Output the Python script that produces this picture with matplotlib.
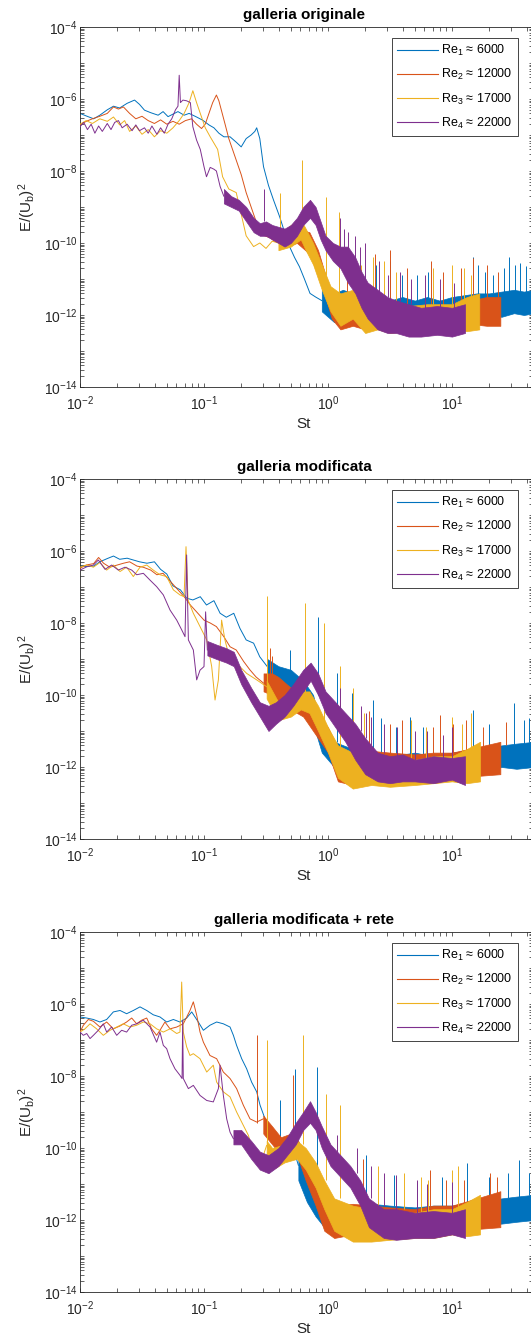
import numpy as np
import matplotlib
matplotlib.use("Agg")
import matplotlib.pyplot as plt
from matplotlib.ticker import FixedLocator, FuncFormatter, NullFormatter
from matplotlib.lines import Line2D

plt.rcParams['font.family'] = ['Liberation Sans', 'DejaVu Sans']
plt.rcParams['mathtext.fontset'] = 'custom'
plt.rcParams['mathtext.rm'] = 'Liberation Sans'
plt.rcParams['mathtext.it'] = 'Liberation Sans:italic'
plt.rcParams['mathtext.bf'] = 'Liberation Sans:bold'
plt.rcParams['mathtext.default'] = 'regular'
plt.rcParams['axes.unicode_minus'] = False

# ---------------------------------------------------------------
# Data (all values are log10(St), log10(E/Ub^2))
# ---------------------------------------------------------------
titles = ["galleria originale", "galleria modificata", "galleria modificata + rete"]
legend_labels = ["Re$_1$ ≈ 6000", "Re$_2$ ≈ 12000", "Re$_3$ ≈ 17000", "Re$_4$ ≈ 22000"]
colors = ["#0072BD", "#D95319", "#EDB120", "#7E2F8E"]

# ---------- panel 1 : galleria originale ----------
p1_re1_line_st = [-2.00,-1.95,-1.89,-1.84,-1.78,-1.73,-1.68,-1.62,-1.56,-1.52,-1.48,-1.43,-1.37,-1.33,-1.29,-1.25,-1.21,-1.16,-1.12,-1.06,-1.01,-0.96,-0.92,-0.88,-0.84,-0.79,-0.74,-0.70,-0.66,-0.62,-0.59,-0.575,-0.55,-0.52,-0.48,-0.44,-0.39,-0.35,-0.31,-0.27,-0.23,-0.19,-0.145,-0.10,-0.05]
p1_re1_line_e = [-6.40,-6.47,-6.55,-6.45,-6.30,-6.20,-6.25,-6.12,-6.03,-6.15,-6.31,-6.38,-6.45,-6.35,-6.49,-6.42,-6.35,-6.45,-6.40,-6.50,-6.59,-6.72,-6.80,-6.95,-7.05,-7.05,-7.20,-7.33,-7.10,-7.00,-6.90,-6.80,-7.10,-7.88,-8.40,-8.80,-9.27,-9.70,-10.1,-10.4,-10.66,-11.0,-11.4,-11.5,-11.6]
p1_re1_band_st = [-0.05, 0.05, 0.12, 0.20, 0.30, 0.40, 0.50, 0.60, 0.70, 0.80, 0.90, 1.00, 1.10, 1.20, 1.30, 1.40, 1.50, 1.58, 1.66]
p1_re1_band_lo = [-11.9, -12.2, -12.0, -12.1, -12.2, -12.1, -12.2, -12.1, -12.2, -12.1, -12.2, -12.1, -12.0, -12.1, -12.0, -12.05, -11.95, -12.0, -11.95]
p1_re1_band_hi = [-11.3, -11.4, -11.3, -11.4, -11.5, -11.5, -11.6, -11.5, -11.6, -11.5, -11.6, -11.5, -11.45, -11.4, -11.4, -11.35, -11.3, -11.35, -11.3]
p1_re1_spike_st = [0.39, 0.50, 0.60, 0.72, 0.81, 1.17, 1.21, 1.27, 1.33, 1.42, 1.46, 1.51, 1.55, 1.60, 1.65]
p1_re1_spike_lo = [-11.6, -11.6, -11.6, -11.6, -11.6, -11.5, -11.5, -11.5, -11.4, -11.4, -11.4, -11.4, -11.4, -11.4, -11.4]
p1_re1_spike_hi = [-10.6, -10.5, -10.9, -10.9, -10.8, -10.4, -10.6, -10.8, -10.9, -10.7, -10.38, -10.6, -10.56, -10.65, -10.8]

p1_re2_line_st = [-2.00,-1.95,-1.90,-1.84,-1.78,-1.73,-1.69,-1.65,-1.60,-1.55,-1.50,-1.45,-1.40,-1.35,-1.30,-1.25,-1.20,-1.15,-1.10,-1.06,-1.02,-0.99,-0.96,-0.93,-0.90,-0.88,-0.86,-0.83,-0.80,-0.77,-0.73,-0.70,-0.66,-0.62,-0.58,-0.55,-0.51,-0.47,-0.43,-0.39,-0.35]
p1_re2_line_e = [-6.72,-6.62,-6.55,-6.48,-6.40,-6.22,-6.28,-6.22,-6.40,-6.55,-6.48,-6.60,-6.68,-6.58,-6.70,-6.62,-6.70,-6.60,-6.55,-6.70,-6.82,-6.70,-6.40,-6.10,-5.89,-6.05,-6.31,-6.70,-7.10,-7.40,-7.80,-8.10,-8.60,-9.00,-9.40,-9.60,-9.80,-9.85,-9.95,-10.0,-9.9]
p1_re2_band_st = [-0.35, -0.25, -0.15, -0.08, -0.02, 0.03, 0.10, 0.20, 0.30, 0.45, 0.60, 0.75, 0.90, 1.00, 1.15, 1.28, 1.39]
p1_re2_band_lo = [-10.1, -10.0, -10.3, -10.9, -11.5, -12.1, -12.4, -12.3, -12.4, -12.35, -12.3, -12.4, -12.3, -12.3, -12.25, -12.3, -12.3]
p1_re2_band_hi = [-9.8, -9.6, -9.7, -10.2, -10.9, -11.4, -11.6, -11.5, -11.6, -11.7, -11.7, -11.8, -11.7, -11.8, -11.6, -11.5, -11.5]
p1_re2_spike_st = [0.15, 0.38, 0.50, 0.64, 0.83, 0.93, 1.07, 1.17, 1.28, 1.37]
p1_re2_spike_lo = [-11.5, -11.7, -11.7, -11.7, -11.8, -11.8, -11.8, -11.7, -11.6, -11.5]
p1_re2_spike_hi = [-10.3, -10.3, -10.2, -10.7, -10.5, -10.8, -10.7, -10.42, -10.6, -10.8]

p1_re3_line_st = [-2.00,-1.95,-1.90,-1.84,-1.78,-1.73,-1.68,-1.64,-1.60,-1.55,-1.50,-1.45,-1.40,-1.35,-1.30,-1.25,-1.20,-1.16,-1.12,-1.09,-1.06,-1.03,-0.99,-0.95,-0.89,-0.85,-0.80,-0.74,-0.70,-0.66,-0.60,-0.55,-0.50,-0.45,-0.40]
p1_re3_line_e = [-6.70,-6.60,-6.68,-6.55,-6.62,-6.50,-6.72,-6.60,-6.90,-6.75,-6.98,-6.85,-7.05,-6.88,-6.95,-6.80,-6.60,-6.40,-6.10,-5.77,-6.10,-6.40,-6.80,-7.05,-7.40,-8.16,-8.50,-8.60,-9.20,-9.80,-10.1,-10.0,-10.15,-9.95,-10.0]
p1_re3_band_st = [-0.40, -0.30, -0.22, -0.18, -0.12, -0.05, 0.02, 0.10, 0.20, 0.30, 0.40, 0.50, 0.65, 0.80, 1.00, 1.12, 1.22]
p1_re3_band_lo = [-10.2, -10.1, -9.9, -10.2, -10.6, -11.3, -11.9, -12.3, -12.1, -12.5, -12.4, -12.5, -12.45, -12.5, -12.4, -12.45, -12.4]
p1_re3_band_hi = [-9.8, -9.5, -9.35, -9.6, -10.0, -10.6, -11.2, -11.4, -11.3, -11.7, -11.6, -11.7, -11.75, -11.7, -11.7, -11.5, -11.4]
p1_re3_spike_st = [-0.39, -0.206, -0.02, 0.09, 0.27, 0.36, 0.45, 0.55, 0.85, 1.00, 1.10, 1.15]
p1_re3_spike_lo = [-9.9, -9.5, -10.9, -11.4, -11.6, -11.7, -11.7, -11.7, -11.7, -11.7, -11.7, -11.6]
p1_re3_spike_hi = [-8.6, -7.69, -8.71, -9.13, -10.6, -10.4, -10.5, -10.8, -10.7, -10.6, -10.7, -10.9]

p1_re4_line_st = [-2.00,-1.97,-1.94,-1.91,-1.88,-1.85,-1.82,-1.78,-1.75,-1.72,-1.69,-1.66,-1.62,-1.58,-1.55,-1.52,-1.48,-1.45,-1.42,-1.38,-1.35,-1.32,-1.29,-1.26,-1.23,-1.21,-1.20,-1.19,-1.17,-1.14,-1.11,-1.09,-1.06,-1.03,-1.00,-0.98,-0.95,-0.92,-0.90,-0.87,-0.84]
p1_re4_line_e = [-6.77,-6.65,-6.85,-6.70,-6.95,-6.75,-6.90,-6.68,-6.85,-6.65,-6.60,-6.80,-6.70,-6.88,-6.72,-6.88,-6.80,-6.95,-6.75,-6.98,-6.80,-6.95,-6.70,-6.55,-6.30,-6.20,-5.34,-6.10,-6.03,-6.05,-6.10,-6.77,-7.14,-7.40,-7.88,-8.16,-7.90,-7.95,-8.00,-8.43,-8.70]
p1_re4_band_st = [-0.84,-0.78,-0.72,-0.66,-0.60,-0.55,-0.50,-0.45,-0.40,-0.35,-0.30,-0.25,-0.20,-0.145,-0.10,-0.06,-0.02,0.04,0.10,0.16,0.22,0.27,0.32,0.40,0.48,0.55,0.65,0.75,0.88,1.00,1.105]
p1_re4_band_lo = [-8.9,-9.0,-9.1,-9.4,-9.7,-9.8,-9.8,-9.9,-10.0,-10.1,-10.0,-9.8,-9.5,-9.3,-9.5,-9.9,-10.2,-10.5,-10.7,-11.1,-11.4,-11.8,-12.1,-12.4,-12.5,-12.5,-12.6,-12.6,-12.55,-12.6,-12.5]
p1_re4_band_hi = [-8.5,-8.7,-8.8,-9.0,-9.3,-9.45,-9.4,-9.5,-9.55,-9.6,-9.5,-9.3,-9.0,-8.8,-9.0,-9.4,-9.8,-10.0,-10.1,-10.1,-10.4,-10.8,-11.1,-11.3,-11.5,-11.6,-11.7,-11.8,-11.75,-11.8,-11.7]
p1_re4_spike_st = [-0.52, 0.10, 0.13, 0.16, 0.22, 0.26, 0.30, 0.41, 0.48, 0.58, 0.67, 0.78, 0.90, 1.02]
p1_re4_spike_lo = [-9.4, -10.1, -10.1, -10.2, -10.5, -10.8, -11.0, -11.4, -11.5, -11.6, -11.7, -11.8, -11.8, -11.8]
p1_re4_spike_hi = [-8.5, -9.3, -9.6, -9.7, -9.8, -10.1, -10.0, -10.5, -10.9, -10.8, -11.0, -10.9, -11.0, -11.1]

# ---------- panel 2 : galleria modificata ----------
p2_re1_line_st = [-2.00,-1.95,-1.89,-1.84,-1.78,-1.73,-1.68,-1.62,-1.57,-1.52,-1.46,-1.40,-1.35,-1.30,-1.25,-1.19,-1.14,-1.09,-1.03,-0.98,-0.92,-0.87,-0.82,-0.76,-0.71,-0.66,-0.60,-0.55,-0.49]
p2_re1_line_e = [-6.42,-6.43,-6.42,-6.30,-6.21,-6.14,-6.23,-6.20,-6.25,-6.30,-6.34,-6.30,-6.51,-6.64,-6.97,-7.08,-7.31,-7.36,-7.27,-7.50,-7.38,-7.73,-7.84,-7.73,-8.15,-8.47,-8.56,-8.94,-9.21]
p2_re1_band_st = [-0.49, -0.40, -0.30, -0.20, -0.12, -0.05, 0.05, 0.20, 0.35, 0.50, 0.70, 0.85, 1.00, 1.20, 1.40, 1.52, 1.66]
p2_re1_band_lo = [-9.5, -9.8, -9.9, -10.3, -10.8, -11.6, -12.0, -12.3, -12.2, -12.3, -12.25, -12.3, -12.2, -12.1, -12.0, -12.05, -12.0]
p2_re1_band_hi = [-9.0, -9.2, -9.3, -9.6, -10.0, -11.0, -11.3, -11.5, -11.6, -11.7, -11.6, -11.7, -11.6, -11.5, -11.4, -11.35, -11.3]
p2_re1_spike_st = [-0.31, -0.08, -0.03, 0.07, 0.197, 0.36, 0.43, 0.55, 0.66, 0.77, 1.17, 1.30, 1.50, 1.58, 1.62]
p2_re1_spike_lo = [-9.4, -10.0, -10.9, -11.3, -11.5, -11.6, -11.7, -11.7, -11.7, -11.7, -11.6, -11.5, -11.4, -11.4, -11.3]
p2_re1_spike_hi = [-8.75, -7.82, -8.47, -9.4, -9.95, -10.14, -10.65, -10.9, -10.6, -10.9, -10.41, -10.8, -10.23, -10.7, -10.65]

p2_re2_line_st = [-2.00,-1.95,-1.89,-1.85,-1.81,-1.76,-1.70,-1.65,-1.60,-1.54,-1.49,-1.43,-1.38,-1.33,-1.27,-1.22,-1.16,-1.11,-1.06,-1.00,-0.95,-0.90,-0.84,-0.79,-0.74,-0.68,-0.63,-0.58,-0.52]
p2_re2_line_e = [-6.48,-6.39,-6.35,-6.18,-6.34,-6.45,-6.39,-6.34,-6.30,-6.42,-6.45,-6.53,-6.66,-6.62,-6.85,-7.04,-7.27,-7.50,-7.69,-7.92,-8.00,-8.10,-8.38,-8.66,-8.75,-9.07,-9.30,-9.50,-9.67]
p2_re2_band_st = [-0.52, -0.45, -0.40, -0.30, -0.20, -0.10, 0.00, 0.08, 0.20, 0.35, 0.50, 0.70, 0.85, 1.00, 1.20, 1.39]
p2_re2_band_lo = [-9.9, -10.0, -10.2, -10.4, -10.6, -11.1, -11.6, -12.4, -12.5, -12.4, -12.45, -12.35, -12.4, -12.3, -12.25, -12.2]
p2_re2_band_hi = [-9.4, -9.4, -9.5, -9.8, -10.1, -10.5, -10.9, -11.5, -11.6, -11.55, -11.6, -11.65, -11.6, -11.6, -11.45, -11.3]
p2_re2_spike_st = [-0.47, -0.454, 0.33, 0.50, 0.60, 0.85, 0.90, 1.01, 1.11, 1.25, 1.434]
p2_re2_spike_lo = [-9.5, -9.5, -11.6, -11.7, -11.7, -11.7, -11.7, -11.7, -11.7, -11.6, -11.4]
p2_re2_spike_hi = [-8.7, -8.92, -10.45, -10.8, -10.7, -10.9, -10.55, -10.8, -10.7, -10.9, -10.74]

p2_re3_line_st = [-2.00,-1.946,-1.892,-1.839,-1.785,-1.731,-1.677,-1.624,-1.570,-1.516,-1.462,-1.409,-1.355,-1.301,-1.247,-1.194,-1.161,-1.145,-1.129,-1.086,-1.032,-0.978,-0.938,-0.911,-0.884,-0.858,-0.831,-0.790,-0.737,-0.656,-0.575,-0.495]
p2_re3_line_e = [-6.45,-6.39,-6.45,-6.32,-6.53,-6.39,-6.57,-6.45,-6.71,-6.45,-6.39,-6.53,-6.66,-6.71,-7.08,-7.22,-7.27,-5.88,-7.36,-7.73,-8.10,-8.47,-9.21,-10.14,-9.58,-7.92,-8.47,-9.03,-9.12,-9.40,-9.58,-9.77]
p2_re3_band_st = [-0.495, -0.40, -0.30, -0.22, -0.15, -0.08, 0.00, 0.08, 0.20, 0.35, 0.50, 0.70, 0.85, 1.00, 1.12, 1.226]
p2_re3_band_lo = [-10.1, -10.7, -10.6, -10.4, -10.5, -11.0, -11.6, -12.3, -12.6, -12.5, -12.55, -12.5, -12.45, -12.4, -12.45, -12.4]
p2_re3_band_hi = [-9.6, -10.2, -10.1, -9.9, -9.9, -10.3, -10.9, -11.4, -11.6, -11.7, -11.75, -11.8, -11.7, -11.7, -11.5, -11.3]
p2_re3_spike_st = [-0.495, -0.185, -0.03, 0.097, 0.20, 0.29, 0.67, 0.79, 1.00, 1.08, 1.15]
p2_re3_spike_lo = [-9.8, -10.0, -10.9, -11.5, -11.6, -11.7, -11.8, -11.8, -11.7, -11.6, -11.6]
p2_re3_spike_hi = [-7.26, -7.45, -8.0, -9.2, -9.8, -10.5, -10.7, -10.9, -10.6, -10.8, -10.5]

p2_re4_line_st = [-2.00,-1.946,-1.892,-1.852,-1.798,-1.745,-1.691,-1.637,-1.583,-1.543,-1.489,-1.435,-1.382,-1.328,-1.274,-1.220,-1.180,-1.153,-1.140,-1.126,-1.086,-1.059,-1.032,-1.000,-0.987,-0.973]
p2_re4_line_e = [-6.53,-6.44,-6.39,-6.25,-6.51,-6.39,-6.53,-6.45,-6.53,-6.66,-6.62,-6.81,-6.99,-7.22,-7.64,-7.92,-8.19,-8.38,-6.11,-8.47,-8.75,-9.58,-9.31,-9.21,-7.69,-8.75]
p2_re4_band_st = [-0.973,-0.90,-0.82,-0.76,-0.70,-0.62,-0.55,-0.48,-0.42,-0.35,-0.28,-0.20,-0.14,-0.08,-0.02,0.06,0.14,0.22,0.30,0.40,0.50,0.60,0.70,0.85,1.00,1.105]
p2_re4_band_lo = [-8.9,-9.0,-9.1,-9.2,-9.7,-10.2,-10.6,-11.0,-10.8,-10.6,-10.3,-9.9,-9.6,-10.0,-10.5,-10.9,-11.3,-11.8,-12.2,-12.4,-12.45,-12.4,-12.4,-12.45,-12.35,-12.5]
p2_re4_band_hi = [-8.5,-8.6,-8.7,-8.8,-9.3,-9.8,-10.2,-10.3,-10.2,-10.0,-9.7,-9.3,-9.1,-9.4,-9.9,-10.2,-10.5,-10.8,-11.2,-11.6,-11.7,-11.65,-11.8,-11.7,-11.75,-11.7]
p2_re4_spike_st = [0.10, 0.27, 0.31, 0.35, 0.45, 0.56, 0.70, 0.80, 0.93, 1.00]
p2_re4_spike_lo = [-10.4, -11.0, -11.2, -11.4, -11.6, -11.7, -11.8, -11.8, -11.8, -11.8]
p2_re4_spike_hi = [-9.8, -10.3, -10.5, -10.6, -10.8, -10.88, -11.0, -11.0, -11.1, -10.9]

# ---------- panel 3 : galleria modificata + rete ----------
p3_re1_line_st = [-2.000,-1.946,-1.892,-1.839,-1.785,-1.731,-1.677,-1.624,-1.570,-1.516,-1.462,-1.409,-1.355,-1.301,-1.247,-1.194,-1.140,-1.099,-1.046,-1.005,-0.952,-0.898,-0.844,-0.790,-0.763,-0.737,-0.696,-0.656,-0.616,-0.575,-0.548,-0.508,-0.468,-0.427,-0.374,-0.320,-0.280,-0.239]
p3_re1_line_e = [-6.36,-6.39,-6.43,-6.50,-6.43,-6.22,-6.18,-6.27,-6.18,-6.08,-6.18,-6.30,-6.36,-6.50,-6.43,-6.50,-6.39,-6.22,-6.50,-6.73,-6.59,-6.50,-6.55,-6.64,-6.87,-7.15,-7.52,-7.80,-8.17,-8.44,-8.81,-9.19,-9.56,-9.74,-9.93,-9.74,-10.0,-10.48]
p3_re1_band_st = [-0.239, -0.17, -0.10, -0.03, 0.05, 0.20, 0.35, 0.50, 0.70, 0.85, 1.00, 1.20, 1.40, 1.52, 1.66]
p3_re1_band_lo = [-10.9, -11.5, -11.9, -12.2, -12.3, -12.3, -12.2, -12.25, -12.2, -12.25, -12.2, -12.15, -12.1, -12.05, -12.0]
p3_re1_band_hi = [-10.3, -10.8, -11.1, -11.3, -11.5, -11.6, -11.55, -11.6, -11.65, -11.6, -11.6, -11.5, -11.4, -11.35, -11.3]
p3_re1_spike_st = [-0.387, -0.27, -0.09, 0.31, 0.53, 0.72, 0.92, 1.12, 1.30, 1.45, 1.54, 1.62]
p3_re1_spike_lo = [-9.8, -10.3, -11.0, -11.6, -11.6, -11.6, -11.6, -11.6, -11.5, -11.4, -11.4, -11.3]
p3_re1_spike_hi = [-8.68, -7.8, -7.75, -10.2, -10.76, -10.94, -10.8, -10.43, -10.8, -10.7, -10.34, -10.7]

p3_re2_line_st = [-2.000,-1.973,-1.933,-1.892,-1.839,-1.785,-1.731,-1.677,-1.624,-1.583,-1.543,-1.503,-1.462,-1.422,-1.382,-1.355,-1.315,-1.274,-1.220,-1.167,-1.113,-1.086,-1.059,-1.032,-1.005,-0.952,-0.898,-0.844,-0.790,-0.737,-0.683,-0.629,-0.575,-0.522]
p3_re2_line_e = [-6.78,-6.59,-6.43,-6.48,-6.64,-6.50,-6.69,-6.61,-6.50,-6.39,-6.55,-6.45,-6.39,-6.69,-6.87,-6.73,-6.50,-6.69,-6.64,-6.55,-6.18,-5.94,-6.31,-6.78,-7.06,-7.43,-7.52,-7.89,-8.07,-8.35,-8.81,-9.19,-9.28,-9.19]
p3_re2_band_st = [-0.522, -0.45, -0.38, -0.30, -0.24, -0.18, -0.10, -0.03, 0.05, 0.20, 0.35, 0.50, 0.70, 0.85, 1.00, 1.20, 1.39]
p3_re2_band_lo = [-9.6, -9.9, -10.2, -10.0, -10.3, -10.9, -11.6, -12.3, -12.5, -12.4, -12.45, -12.35, -12.3, -12.35, -12.3, -12.25, -12.2]
p3_re2_band_hi = [-9.1, -9.4, -9.7, -9.6, -9.8, -10.3, -10.9, -11.5, -11.6, -11.55, -11.6, -11.65, -11.7, -11.6, -11.6, -11.4, -11.2]
p3_re2_spike_st = [-0.575, -0.28, 0.28, 0.55, 0.82, 0.95, 1.10, 1.31, 1.36]
p3_re2_spike_lo = [-9.3, -9.8, -11.5, -11.7, -11.7, -11.7, -11.7, -11.4, -11.3]
p3_re2_spike_hi = [-6.87, -7.98, -10.3, -10.8, -10.6, -10.9, -10.9, -10.7, -10.8]

p3_re3_line_st = [-2.000,-1.960,-1.919,-1.866,-1.812,-1.758,-1.704,-1.651,-1.597,-1.543,-1.489,-1.435,-1.382,-1.328,-1.274,-1.220,-1.194,-1.180,-1.167,-1.140,-1.113,-1.086,-1.032,-0.978,-0.925,-0.898,-0.844,-0.790,-0.737,-0.683,-0.642,-0.602,-0.548,-0.495]
p3_re3_line_e = [-6.78,-6.69,-6.55,-6.69,-6.87,-6.73,-6.64,-6.55,-6.64,-6.59,-6.50,-6.55,-6.69,-6.78,-6.69,-6.82,-6.78,-5.39,-6.78,-7.19,-7.43,-7.38,-7.52,-7.89,-7.70,-8.17,-8.44,-8.58,-9.00,-9.37,-9.65,-10.11,-10.48,-9.93]
p3_re3_band_st = [-0.495, -0.45, -0.35, -0.25, -0.18, -0.10, -0.03, 0.05, 0.20, 0.35, 0.50, 0.70, 0.85, 1.00, 1.12, 1.226]
p3_re3_band_lo = [-10.3, -10.6, -10.4, -10.3, -10.6, -11.1, -11.7, -12.3, -12.6, -12.6, -12.55, -12.5, -12.5, -12.4, -12.45, -12.4]
p3_re3_band_hi = [-9.8, -10.0, -9.9, -9.8, -10.0, -10.4, -10.9, -11.4, -11.6, -11.7, -11.75, -11.8, -11.7, -11.7, -11.5, -11.3]
p3_re3_spike_st = [-0.495, -0.20, -0.02, 0.097, 0.40, 0.61, 0.75, 0.81, 1.00, 1.05]
p3_re3_spike_lo = [-10.0, -9.9, -10.9, -11.4, -11.7, -11.7, -11.8, -11.8, -11.7, -11.7]
p3_re3_spike_hi = [-7.0, -6.87, -8.5, -8.8, -10.5, -10.7, -10.8, -10.9, -10.6, -10.5]

p3_re4_line_st = [-2.000,-1.973,-1.946,-1.919,-1.892,-1.852,-1.812,-1.785,-1.745,-1.704,-1.664,-1.624,-1.583,-1.543,-1.489,-1.435,-1.382,-1.355,-1.328,-1.301,-1.274,-1.234,-1.194,-1.177,-1.172,-1.167,-1.126,-1.086,-1.032,-0.978,-0.925,-0.884,-0.871,-0.844,-0.817,-0.790,-0.763]
p3_re4_line_e = [-6.78,-6.87,-6.82,-6.96,-6.87,-6.73,-6.55,-6.78,-6.64,-6.87,-6.73,-6.78,-6.59,-6.55,-6.45,-6.64,-7.06,-6.78,-7.15,-7.24,-7.52,-7.80,-7.98,-8.07,-6.45,-8.07,-8.35,-8.26,-8.54,-8.68,-8.72,-8.35,-7.70,-8.54,-9.19,-9.56,-9.74]
p3_re4_band_st = [-0.763,-0.70,-0.62,-0.55,-0.48,-0.40,-0.33,-0.26,-0.20,-0.145,-0.10,-0.05,0.02,0.10,0.18,0.26,0.33,0.45,0.55,0.70,0.85,1.00,1.105]
p3_re4_band_lo = [-9.9,-9.9,-10.3,-10.6,-10.7,-10.5,-10.2,-9.9,-9.5,-9.3,-9.5,-10.0,-10.5,-10.8,-11.1,-11.6,-12.2,-12.5,-12.55,-12.5,-12.5,-12.4,-12.5]
p3_re4_band_hi = [-9.5,-9.5,-9.8,-10.1,-10.2,-10.0,-9.7,-9.3,-9.0,-8.7,-9.0,-9.4,-9.9,-10.2,-10.5,-10.9,-11.4,-11.7,-11.7,-11.8,-11.75,-11.8,-11.7]
p3_re4_spike_st = [0.07, 0.23, 0.35, 0.45, 0.55, 0.72, 0.80, 1.00]
p3_re4_spike_lo = [-10.1, -10.7, -11.4, -11.6, -11.7, -11.8, -11.8, -11.8]
p3_re4_spike_hi = [-9.65, -10.0, -10.5, -10.7, -10.76, -10.9, -11.0, -10.94]

panels = [
    [(p1_re1_line_st, p1_re1_line_e, p1_re1_band_st, p1_re1_band_lo, p1_re1_band_hi, p1_re1_spike_st, p1_re1_spike_lo, p1_re1_spike_hi),
     (p1_re2_line_st, p1_re2_line_e, p1_re2_band_st, p1_re2_band_lo, p1_re2_band_hi, p1_re2_spike_st, p1_re2_spike_lo, p1_re2_spike_hi),
     (p1_re3_line_st, p1_re3_line_e, p1_re3_band_st, p1_re3_band_lo, p1_re3_band_hi, p1_re3_spike_st, p1_re3_spike_lo, p1_re3_spike_hi),
     (p1_re4_line_st, p1_re4_line_e, p1_re4_band_st, p1_re4_band_lo, p1_re4_band_hi, p1_re4_spike_st, p1_re4_spike_lo, p1_re4_spike_hi)],
    [(p2_re1_line_st, p2_re1_line_e, p2_re1_band_st, p2_re1_band_lo, p2_re1_band_hi, p2_re1_spike_st, p2_re1_spike_lo, p2_re1_spike_hi),
     (p2_re2_line_st, p2_re2_line_e, p2_re2_band_st, p2_re2_band_lo, p2_re2_band_hi, p2_re2_spike_st, p2_re2_spike_lo, p2_re2_spike_hi),
     (p2_re3_line_st, p2_re3_line_e, p2_re3_band_st, p2_re3_band_lo, p2_re3_band_hi, p2_re3_spike_st, p2_re3_spike_lo, p2_re3_spike_hi),
     (p2_re4_line_st, p2_re4_line_e, p2_re4_band_st, p2_re4_band_lo, p2_re4_band_hi, p2_re4_spike_st, p2_re4_spike_lo, p2_re4_spike_hi)],
    [(p3_re1_line_st, p3_re1_line_e, p3_re1_band_st, p3_re1_band_lo, p3_re1_band_hi, p3_re1_spike_st, p3_re1_spike_lo, p3_re1_spike_hi),
     (p3_re2_line_st, p3_re2_line_e, p3_re2_band_st, p3_re2_band_lo, p3_re2_band_hi, p3_re2_spike_st, p3_re2_spike_lo, p3_re2_spike_hi),
     (p3_re3_line_st, p3_re3_line_e, p3_re3_band_st, p3_re3_band_lo, p3_re3_band_hi, p3_re3_spike_st, p3_re3_spike_lo, p3_re3_spike_hi),
     (p3_re4_line_st, p3_re4_line_e, p3_re4_band_st, p3_re4_band_lo, p3_re4_band_hi, p3_re4_spike_st, p3_re4_spike_lo, p3_re4_spike_hi)],
]

# ---------------------------------------------------------------
W, H = 531, 1338
fig = plt.figure(figsize=(W / 100, H / 100), dpi=100)
axcol = "#262626"
panel_tops = [27, 479, 932]
ax_left, ax_w, ax_h = 80, 453, 360

def p10(a):
    return np.power(10.0, np.asarray(a, dtype=float))

for top, title, series in zip(panel_tops, titles, panels):
    ax = fig.add_axes([ax_left / W, 1 - (top + ax_h) / H, ax_w / W, ax_h / H])
    for k, (lst, le, bst, blo, bhi, sst, slo, shi) in enumerate(series):
        c = colors[k]
        z = 2 + k
        ax.plot(p10(lst), p10(le), color=c, lw=0.7, zorder=z)
        ax.fill_between(p10(bst), p10(blo), p10(bhi), facecolor=c, edgecolor=c,
                        lw=0.5, zorder=z)
        ax.vlines(p10(sst), p10(slo), p10(shi), color=c, lw=0.7, zorder=z)

    ax.set_xscale('log')
    ax.set_yscale('log')
    ax.set_xlim(1e-2, 10 ** (-2 + ax_w / 124.0))
    ax.set_ylim(1e-14, 1e-4)

    ax.xaxis.set_major_locator(FixedLocator([1e-2, 1e-1, 1e0, 1e1]))
    ax.xaxis.set_minor_locator(FixedLocator([k * 10.0 ** n for n in range(-2, 2) for k in range(2, 10)]))
    ax.yaxis.set_major_locator(FixedLocator([10.0 ** n for n in range(-14, -3, 2)]))
    ax.yaxis.set_minor_locator(FixedLocator([k * 10.0 ** n for n in range(-14, -4) for k in range(1, 10)
                                             if not (k == 1 and n % 2 == 0)]))
    fmt = FuncFormatter(lambda v, _: r'$10^{%d}$' % int(round(np.log10(v))))
    ax.xaxis.set_major_formatter(fmt)
    ax.yaxis.set_major_formatter(fmt)
    ax.xaxis.set_minor_formatter(NullFormatter())
    ax.yaxis.set_minor_formatter(NullFormatter())

    ax.tick_params(which='both', direction='in', top=True, right=True, length=3,
                   width=0.5, color=axcol, labelcolor=axcol, labelsize=10)
    ax.tick_params(axis='y', pad=2)
    ax.tick_params(axis='x', pad=5)
    for sp in ax.spines.values():
        sp.set_linewidth(0.6)
        sp.set_color(axcol)

    ax.set_title(title, fontsize=11, fontweight='bold', color='black', pad=5.5,
                 x=(304 - ax_left) / ax_w)
    ax.set_xlabel('St', fontsize=11, color=axcol)
    ax.xaxis.set_label_coords((304 - ax_left) / ax_w, -30 / ax_h)
    ax.set_ylabel('E/(U$_b$)$^2$', fontsize=11, color=axcol)
    ax.yaxis.set_label_coords((38 - ax_left) / ax_w, 0.5)

    handles = [Line2D([0], [0], color=c, lw=0.8) for c in colors]
    leg = ax.legend(handles, legend_labels, loc='upper right',
                    bbox_to_anchor=((518 - ax_left) / ax_w, 1 - 11 / ax_h),
                    borderaxespad=0, fontsize=9, handlelength=3.3,
                    handletextpad=0.25, labelspacing=0.72, borderpad=0.42,
                    fancybox=False, framealpha=1, edgecolor=axcol)
    leg.get_frame().set_linewidth(0.6)
    leg.set_zorder(20)

fig.savefig('out.png', dpi=100)
